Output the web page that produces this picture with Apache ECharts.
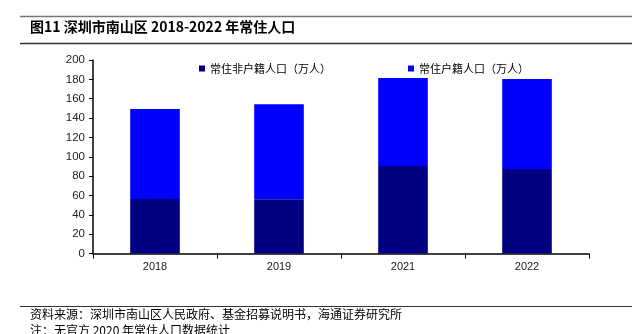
<!DOCTYPE html>
<html><head><meta charset="utf-8">
<script src="https://cdn.jsdelivr.net/npm/echarts@6/dist/echarts.min.js"></script>
<style>html,body{margin:0;padding:0;background:#fff}#c{width:637px;height:334px}</style>
</head><body><div id="c"></div>
<script>
var categories = ['2018', '2019', '2021', '2022'];
var nonHukou = [56.3, 56.0, 90.4, 87.3];
var hukou = [93.1, 98.2, 91.0, 93.1];
var yTicks = [0, 20, 40, 60, 80, 100, 120, 140, 160, 180, 200];
var nameNon = '常住非户籍人口（万人）';
var nameHukou = '常住户籍人口（万人）';
var titleText = '图11 深圳市南山区 2018-2022 年常住人口';
var sourceText = '资料来源：深圳市南山区人民政府、基金招募说明书，海通证券研究所';
var noteText = '注：无官方 2020 年常住人口数据统计';

var chart = echarts.init(document.getElementById('c'), null, {renderer: 'canvas'});
var cjk = '"Noto Sans CJK SC", sans-serif';
var legendCommon = {
  orient: 'horizontal', icon: 'rect', itemWidth: 6, itemHeight: 6, itemGap: 4,
  textStyle: {fontFamily: cjk, fontSize: 11, color: '#000'}, top: 58, selectedMode: false
};
chart.setOption({
  animation: false,
  grid: {left: 93, right: 48, top: 60, bottom: 80.5, containLabel: false},
  legend: [
    Object.assign({}, legendCommon, {left: 194, data: [nameNon]}),
    Object.assign({}, legendCommon, {left: 403, data: [nameHukou]})
  ],
  xAxis: {
    type: 'category', data: categories,
    axisLine: {lineStyle: {color: '#000', width: 1.5}},
    axisTick: {show: true, length: 5, lineStyle: {color: '#000'}},
    axisLabel: {fontFamily: 'Liberation Sans, Arial', fontSize: 11, color: '#222', margin: 8}
  },
  yAxis: {
    type: 'value', min: yTicks[0], max: yTicks[yTicks.length - 1], interval: 20,
    axisLine: {show: true, lineStyle: {color: '#000', width: 1.5}},
    axisTick: {show: true, length: 4, lineStyle: {color: '#000'}},
    splitLine: {show: false},
    axisLabel: {fontFamily: 'Liberation Sans, Arial', fontSize: 11.5, color: '#222', margin: 8}
  },
  series: [
    {name: nameNon, type: 'bar', stack: 'a', data: nonHukou, barWidth: '40%',
     itemStyle: {color: '#000080'}},
    {name: nameHukou, type: 'bar', stack: 'a', data: hukou, barWidth: '40%',
     itemStyle: {color: '#0000FF'}}
  ],
  graphic: [
    {type: 'line', shape: {x1: 20, y1: 16.5, x2: 632, y2: 16.5}, style: {stroke: '#777', lineWidth: 1.5}},
    {type: 'text', left: 30, top: 20, style: {text: titleText, fontFamily: cjk, fontWeight: 'bold', fontSize: 14, fill: '#000'}},
    {type: 'line', shape: {x1: 20, y1: 43.5, x2: 632, y2: 43.5}, style: {stroke: '#333', lineWidth: 1.5}},
    {type: 'line', shape: {x1: 20, y1: 306.5, x2: 632, y2: 306.5}, style: {stroke: '#333', lineWidth: 1}},
    {type: 'text', left: 30, top: 308, style: {text: sourceText, fontFamily: cjk, fontSize: 12, fill: '#000'}},
    {type: 'text', left: 30, top: 324, style: {text: noteText, fontFamily: cjk, fontSize: 12, fill: '#000'}}
  ]
});
</script></body></html>
